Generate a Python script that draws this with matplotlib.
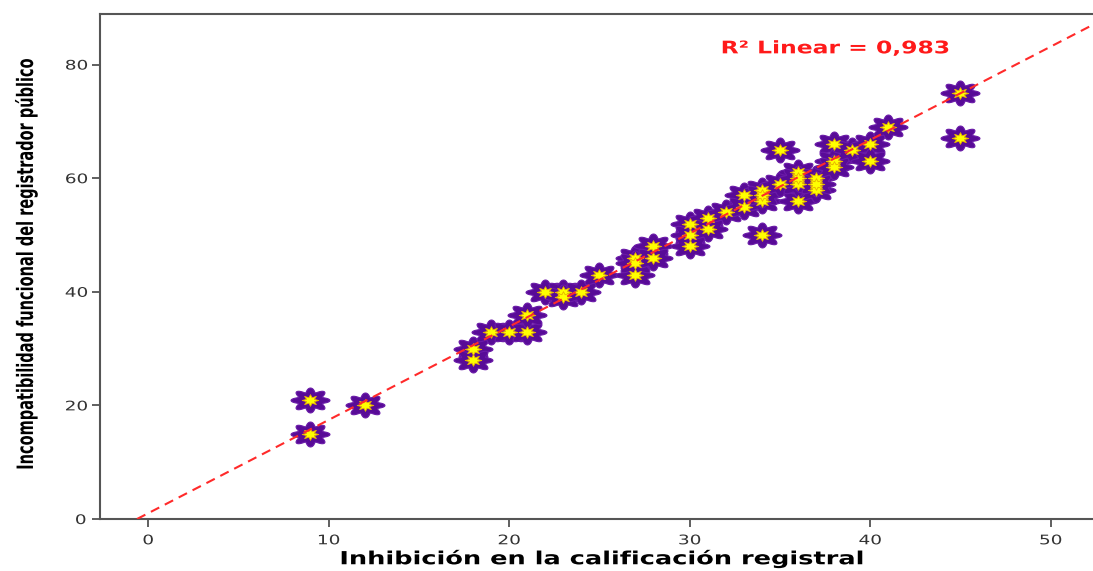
import numpy as np
import matplotlib
matplotlib.use("Agg")
import matplotlib.pyplot as plt
from matplotlib.path import Path
from matplotlib.transforms import Affine2D
from matplotlib.patheffects import AbstractPathEffect

# Data
inhibicion = [9, 9, 12, 18, 18, 19, 20, 21, 21, 22, 23, 23, 24, 25, 27, 27, 27,
              28, 28, 30, 30, 30, 31, 31, 32, 33, 33, 34, 34, 34, 34, 35, 35,
              36, 36, 36, 36, 37, 37, 37, 38, 38, 38, 39, 40, 40, 41, 45, 45]
incompatibilidad = [21, 15, 20, 30, 28, 33, 33, 33, 36, 40, 40, 39, 40, 43, 43, 46, 45,
                    48, 46, 52, 50, 48, 53, 51, 54, 57, 55, 56, 58, 50, 57, 65, 59,
                    61, 56, 59, 60, 58, 60, 59, 66, 63, 62, 65, 66, 63, 69, 75, 67]
# linear fit line as drawn in the reference (slope, intercept)
fit_slope = 1.643
fit_intercept = 1.0
xticks = [0, 10, 20, 30, 40, 50]
yticks = [0, 20, 40, 60, 80]
r2_label = "R\u00b2 Linear = 0,983"
xlabel = "Inhibición en la calificación registral"
ylabel = "Incompatibilidad funcional del registrador público"


class Stretch(AbstractPathEffect):
    """Stretch rendered text about its own centre (display coords)."""
    def __init__(self, sx=1.0, sy=1.0):
        super().__init__()
        self.sx, self.sy = sx, sy

    def draw_path(self, renderer, gc, tpath, affine, rgbFace=None):
        v = affine.transform(tpath.vertices)
        if len(v):
            cx = 0.5 * (v[:, 0].min() + v[:, 0].max())
            cy = 0.5 * (v[:, 1].min() + v[:, 1].max())
        else:
            cx = cy = 0.0
        a = affine + Affine2D().translate(-cx, -cy).scale(self.sx, self.sy).translate(cx, cy)
        renderer.draw_path(gc, tpath, a, rgbFace)


x = np.array(inhibicion, dtype=float)
y = np.array(incompatibilidad, dtype=float)

# flower-like marker (8 rounded petals), stretched horizontally
th = np.linspace(0, 2 * np.pi, 321)
r = 0.66 + 0.34 * (0.5 + 0.5 * np.cos(8 * th)) ** 0.8
verts = np.column_stack([r * np.cos(th), 0.64 * r * np.sin(th)])
flower = Path(verts, closed=True)
th2 = np.linspace(0, 2 * np.pi, 17)
r2 = np.where(np.arange(17) % 2 == 0, 1.0, 0.5)
sverts = np.column_stack([r2 * np.cos(th2), 0.7 * r2 * np.sin(th2)])
star = Path(sverts, closed=True)

fig = plt.figure(figsize=(10.93, 5.71), dpi=100)
ax = fig.add_axes([100 / 1093, 1 - 519 / 571, 1 - 100 / 1093, (519 - 14) / 571])

ax.scatter(x, y, s=28 ** 2, marker=flower, color="#580b97", edgecolors="#6a1aa8",
           linewidths=0.8, zorder=3)
ax.scatter(x, y, s=12 ** 2, marker=star, color="#ffff00", edgecolors="#e8b400",
           linewidths=0.6, zorder=4)

xmin, xmax = -2.66, 52.35
x0 = -fit_intercept / fit_slope
xl = np.array([x0, xmax])
ax.plot(xl, fit_intercept + fit_slope * xl, color="#ff2a2a", lw=1.5,
        linestyle=(0, (4.5, 3)), zorder=5)

ax.set_xlim(xmin, xmax)
ax.set_ylim(0, 88.9)
ax.set_xticks(xticks)
ax.set_yticks(yticks)
ax.tick_params(axis="both", direction="out", length=6, width=1.2, color="#444444",
               labelsize=9.5, labelcolor="#333333", pad=5)
for lab in ax.get_xticklabels() + ax.get_yticklabels():
    lab.set_path_effects([Stretch(1.4, 1.0)])
for s in ["left", "bottom", "top"]:
    ax.spines[s].set_color("#555555")
    ax.spines[s].set_linewidth(1.5)
ax.spines["right"].set_visible(False)

fig.text(600 / 1093, 1 - 559 / 571, xlabel, fontsize=13, fontweight="bold",
         ha="center", va="center", path_effects=[Stretch(1.42, 1.0)])
fig.text(26 / 1093, 1 - 265 / 571, ylabel, fontsize=12, fontweight="bold",
         family="DejaVu Sans", fontstretch="condensed",
         rotation=90, ha="center", va="center", path_effects=[Stretch(1.35, 0.97)])

ax.text(0.7405, 0.932, r2_label, transform=ax.transAxes, color="#ff1a1a",
        fontsize=12.5, fontweight="bold", ha="center", va="center",
        path_effects=[Stretch(1.35, 1.0)])

fig.savefig("out.png", dpi=100)
